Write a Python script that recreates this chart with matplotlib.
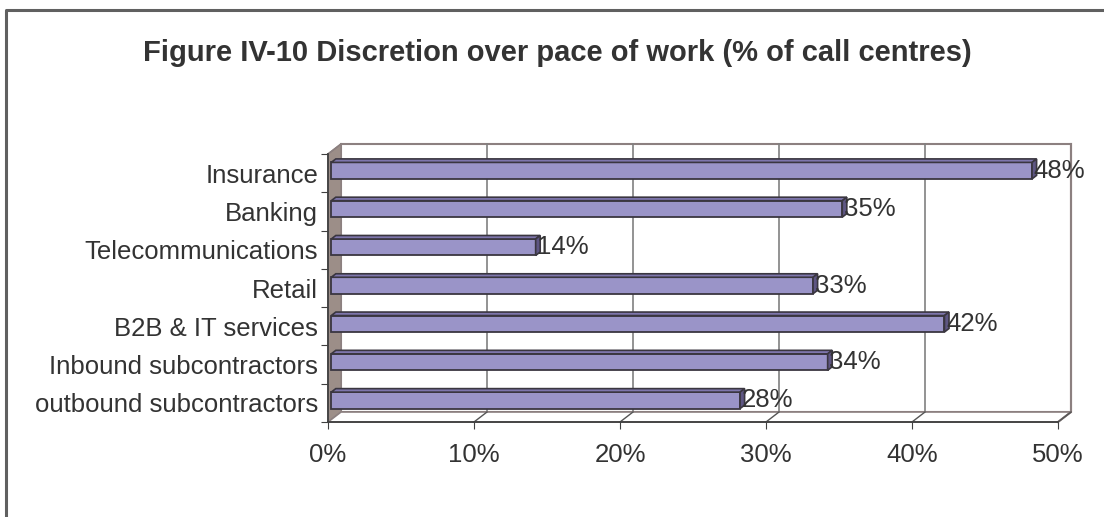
import matplotlib
matplotlib.use('Agg')
import matplotlib.pyplot as plt
from matplotlib.patches import Polygon, Rectangle

plt.rcParams['font.family'] = ['Liberation Sans', 'DejaVu Sans']

# data, listed top to bottom as in the chart
categories = ['Insurance', 'Banking', 'Telecommunications', 'Retail',
              'B2B & IT services', 'Inbound subcontractors', 'outbound subcontractors']
values = [48, 35, 14, 33, 42, 34, 28]
x_ticks = [0, 10, 20, 30, 40, 50]
x_tick_labels = ['0%', '10%', '20%', '30%', '40%', '50%']
title = 'Figure IV-10 Discretion over pace of work (% of call centres)'

TEXT = '#333333'
BAR_FRONT = '#9a94c8'
BAR_TOP = '#7e76ad'
BAR_SIDE = '#5e5683'
BAR_EDGE = '#3a3640'
WALL = '#9c8e88'
WALL_EDGE = '#8c8080'

W, H = 1104, 517
fig = plt.figure(figsize=(W / 100, H / 100), dpi=100)

# frame around the chart (cut off at the right and bottom)
fig.add_artist(plt.Line2D([6 / W, 6 / W, 1], [0, 1 - 10 / H, 1 - 10 / H],
                          color='#606060', lw=2.2, transform=fig.transFigure))

fig.text(557 / W, 1 - 53 / H, title, ha='center', va='center',
         fontsize=21, fontweight='bold', color=TEXT)

ax = fig.add_axes([328 / W, 1 - 422 / H, 730 / W, 268 / H])
n = len(categories)
xmax = x_ticks[-1]
ax.set_xlim(0, xmax)
ax.set_ylim(0, n)

# depth of the 3d box in data units
dx, dy = 13 / 14.6, 10 / 38.3

# back wall and gridlines
ax.add_patch(Rectangle((dx, dy), xmax, n, facecolor='white', edgecolor=WALL_EDGE,
                       lw=1.5, clip_on=False, zorder=0))
for t in x_ticks[1:-1]:
    ax.plot([t + dx, t + dx], [dy, n + dy], color='#808080', lw=1.2, clip_on=False, zorder=1)
# left side wall
ax.add_patch(Polygon([(0, 0), (dx, dy), (dx, n + dy), (0, n)], closed=True,
                     facecolor=WALL, edgecolor=WALL_EDGE, lw=1, clip_on=False, zorder=1))
# floor
ax.add_patch(Polygon([(0, 0), (xmax, 0), (xmax + dx, dy), (dx, dy)], closed=True,
                     facecolor='white', edgecolor=WALL_EDGE, lw=1.2, clip_on=False, zorder=1))
ax.plot([xmax, xmax + dx, xmax + dx], [0, dy, n + dy], color=WALL_EDGE, lw=1.5,
        clip_on=False, zorder=1)
ax.plot([0, dx], [n, n + dy], color=WALL_EDGE, lw=1.2, clip_on=False, zorder=1)
for t in x_ticks[1:]:
    ax.plot([t, t + dx], [0, dy], color='#555555', lw=1, clip_on=False, zorder=1)

# bars
bh = 0.43
f0, d = 0.25, 0.35
ypos = list(range(n - 1, -1, -1))
for y, v in zip(ypos, values):
    x0 = f0 * dx
    yc = y + 0.5 + f0 * dy
    yb, yt = yc - bh / 2, yc + bh / 2
    ox, oy = d * dx, d * dy
    ax.barh(yc, v, left=x0, height=bh, color=BAR_FRONT, edgecolor=BAR_EDGE, lw=1.3, zorder=3)
    ax.add_patch(Polygon([(x0, yt), (x0 + v, yt), (x0 + v + ox, yt + oy), (x0 + ox, yt + oy)],
                         closed=True, facecolor=BAR_TOP, edgecolor=BAR_EDGE, lw=1.2, zorder=3))
    ax.add_patch(Polygon([(x0 + v, yb), (x0 + v + ox, yb + oy), (x0 + v + ox, yt + oy), (x0 + v, yt)],
                         closed=True, facecolor=BAR_SIDE, edgecolor=BAR_EDGE, lw=1.2, zorder=3))
    ax.text(x0 + v + 0.1, yc, f'{v}%', ha='left', va='center', fontsize=18.5, color=TEXT, zorder=4)

# axes
for s in ['top', 'right']:
    ax.spines[s].set_visible(False)
for s in ['left', 'bottom']:
    ax.spines[s].set_color('#404040')
    ax.spines[s].set_linewidth(1.3)
    ax.spines[s].set_zorder(5)
ax.set_xticks(x_ticks)
ax.set_xticklabels(x_tick_labels)
ax.set_yticks(range(n + 1))
ax.set_yticklabels([])
ax.set_yticks([y + 0.5 for y in ypos], minor=True)
ax.set_yticklabels(categories, minor=True)
ax.tick_params(axis='y', which='major', length=5, color='#404040', direction='out')
ax.tick_params(axis='y', which='minor', length=0, pad=7, labelsize=18.5, labelcolor=TEXT)
ax.tick_params(axis='x', length=5, color='#404040', pad=10, labelsize=18.5, labelcolor=TEXT)
ax.patch.set_visible(False)

fig.savefig('out.png', dpi=100)
